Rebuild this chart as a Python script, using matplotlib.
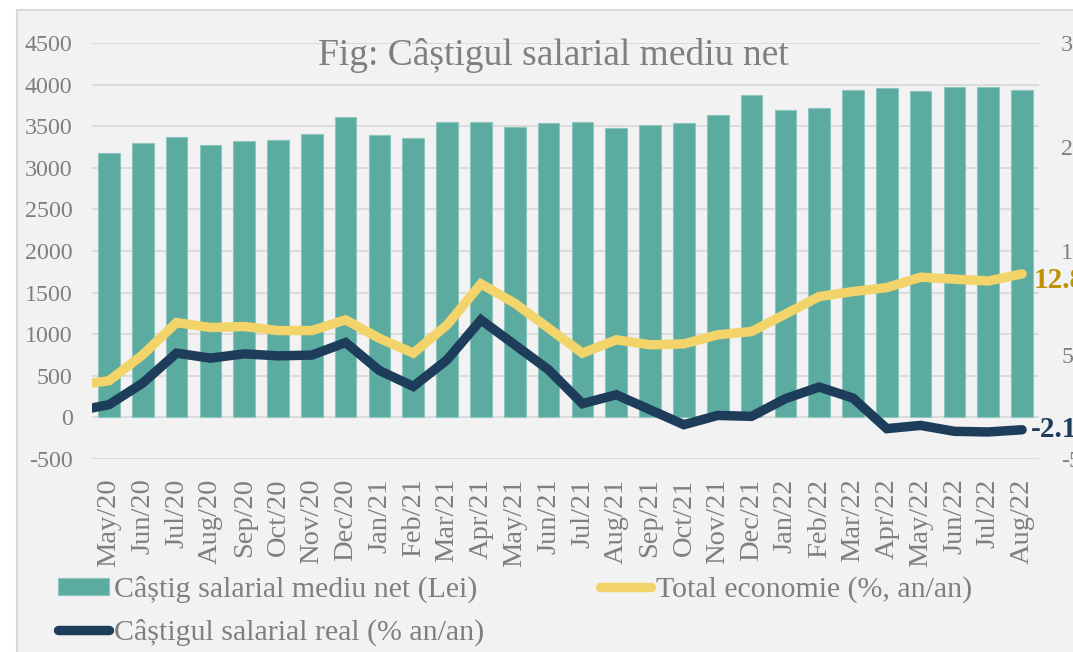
import numpy as np
import matplotlib.pyplot as plt
from matplotlib.patches import Rectangle

months = ['May/20', 'Jun/20', 'Jul/20', 'Aug/20', 'Sep/20', 'Oct/20', 'Nov/20',
          'Dec/20', 'Jan/21', 'Feb/21', 'Mar/21', 'Apr/21', 'May/21', 'Jun/21',
          'Jul/21', 'Aug/21', 'Sep/21', 'Oct/21', 'Nov/21', 'Dec/21', 'Jan/22',
          'Feb/22', 'Mar/22', 'Apr/22', 'May/22', 'Jun/22', 'Jul/22', 'Aug/22']

# net average wage, lei (bars, left axis)
castig_net = [3175, 3295, 3370, 3270, 3320, 3340, 3410, 3615, 3390, 3360,
              3545, 3555, 3490, 3540, 3545, 3480, 3510, 3540, 3640, 3870,
              3690, 3715, 3930, 3965, 3925, 3975, 3970, 3930]

# % y/y (lines, right axis); the series start one month earlier (Apr/20),
# that point falls just outside the plot area and gets clipped
total_prev = 2.1
total_economie = [2.52, 5.02, 8.12, 7.64, 7.74, 7.35, 7.35, 8.38, 6.6, 5.18,
                  7.9, 11.84, 9.98, 7.58, 5.18, 6.46, 5.98, 6.07, 6.94, 7.26,
                  8.93, 10.62, 11.10, 11.48, 12.48, 12.29, 12.12, 12.8]
real_prev = -0.4
castig_real = [0.22, 2.30, 5.18, 4.70, 5.11, 4.92, 4.99, 6.20, 3.5, 1.98,
               4.54, 8.38, 5.98, 3.58, 0.32, 1.18, -0.26, -1.70, -0.81, -0.90,
               0.80, 1.92, 0.86, -2.08, -1.77, -2.34, -2.40, -2.19]

TEAL = '#5BABA1'
YELLOW = '#F2D46B'
NAVY = '#1E3D5B'
GREY = '#7F7F7F'
GRID = '#D9D9D9'

plt.rcParams['font.family'] = ['Liberation Serif', 'DejaVu Serif']
plt.rcParams['axes.unicode_minus'] = False

W, H = 1073, 652
fig = plt.figure(figsize=(W / 100, H / 100), dpi=100, facecolor='white')
fig.patches.append(Rectangle((17 / W, -0.1), 1.2, 1 - 10 / H + 0.1,
                             transform=fig.transFigure, facecolor='#F2F2F2',
                             edgecolor=GRID, linewidth=1.5, zorder=-10))

ax = fig.add_axes([92 / W, 1 - 459 / H, (1039 - 92) / W, (459 - 43) / H])
ax.set_facecolor('none')
x = np.arange(len(months))
bars = ax.bar(x, castig_net, width=0.64, color=TEAL, edgecolor='#8CC6BE',
              linewidth=0.8, zorder=2, label='Câștig salarial mediu net (Lei)')
ax.set_xlim(-0.5, len(months) - 0.5)
ax.set_ylim(-500, 4500)
ax.set_yticks(np.arange(-500, 4501, 500))
ax.grid(axis='y', color=GRID, linewidth=1.3, zorder=0)
ax.set_axisbelow(True)
for s in ax.spines.values():
    s.set_visible(False)
ax.set_xticks(x)
ax.set_xticklabels(months, rotation=90, fontsize=20.5, color=GREY)
ax.tick_params(axis='x', length=0, pad=14)
ax.tick_params(axis='y', length=0, pad=14, labelsize=17.3, labelcolor=GREY)

ax2 = ax.twinx()
ax2.set_ylim(-5, 35)
ax2.set_yticks([-5, 5, 15, 25, 35])
ax2.tick_params(axis='y', length=0, pad=16, labelsize=17.3, labelcolor=GREY)
for s in ax2.spines.values():
    s.set_visible(False)

xl = np.arange(-1, len(months))
l1, = ax2.plot(xl, [total_prev] + total_economie, color=YELLOW, lw=6.8,
               solid_capstyle='round', solid_joinstyle='miter',
               label='Total economie (%, an/an)')
l2, = ax2.plot(xl, [real_prev] + castig_real, color=NAVY, lw=6.8,
               solid_capstyle='round', solid_joinstyle='miter',
               label='Câștigul salarial real (% an/an)')

ax2.annotate(f'{total_economie[-1]:.1f}', (x[-1], total_economie[-1]),
             xytext=(8, -5), textcoords='offset points', va='center',
             ha='left', fontsize=21, fontweight='bold', color='#BF9000',
             annotation_clip=False)
ax2.annotate(f'{castig_real[-1]:.2f}', (x[-1], castig_real[-1]),
             xytext=(6, 0), textcoords='offset points', va='center',
             ha='left', fontsize=21, fontweight='bold', color=NAVY,
             annotation_clip=False)

fig.text(553 / W, 1 - 65 / H, 'Fig: Câștigul salarial mediu net',
         ha='center', va='baseline', fontsize=27, color=GREY)

fig.legend([bars, l2, l1],
           ['Câștig salarial mediu net (Lei)', 'Câștigul salarial real (% an/an)',
            'Total economie (%, an/an)'],
           ncol=2, loc='upper left', bbox_to_anchor=(58 / W, 1 - 576 / H),
           frameon=False, fontsize=21.5, labelcolor=GREY, borderpad=0,
           handlelength=1.72, handleheight=0.5, handletextpad=0.17,
           columnspacing=3.85, labelspacing=0.5, borderaxespad=0)

fig.savefig('out.png', dpi=100, facecolor=fig.get_facecolor())
